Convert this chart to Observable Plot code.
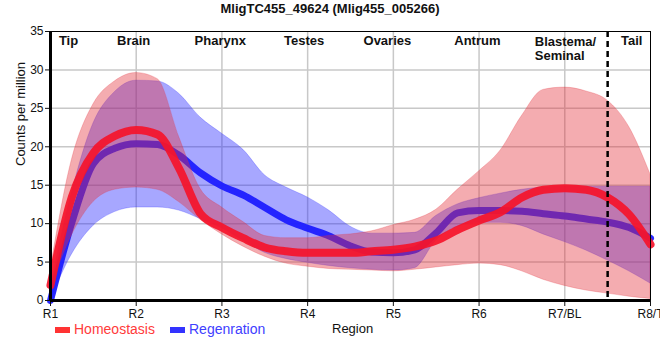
<!DOCTYPE html>
<html><head><meta charset="utf-8">
<script src="https://cdn.jsdelivr.net/npm/d3@7"></script>
<script src="https://cdn.jsdelivr.net/npm/@observablehq/plot@0.6"></script>
<style>
body{margin:0;background:#fff;font-family:"Liberation Sans",Arial,sans-serif;}
#wrap{position:relative;width:660px;height:360px;overflow:hidden}
#title{position:absolute;left:0;width:660px;top:1px;text-align:center;font-weight:bold;font-size:13px;line-height:15px;color:#111}
.leg{position:absolute;top:321px;font-size:14px;line-height:16px;white-space:nowrap}
.sw{position:absolute;top:327px;width:15px;height:6px}
</style></head><body>
<div id="wrap">
<div id="chart"></div>
<div id="title">MligTC455_49624 (Mlig455_005266)</div>
<div class="sw" style="left:55px;background:#ff3333"></div>
<div class="leg" style="left:74px;color:#ff3b3b">Homeostasis</div>
<div class="sw" style="left:170px;background:#3333ff"></div>
<div class="leg" style="left:189px;color:#4040ff">Regenration</div>
<div class="leg" style="left:332px;color:#111;font-size:13px">Region</div>
</div>
<script>
// x positions (region index, R1 = 0)
const positions = [0,0.25,0.5,0.75,1,1.25,1.5,1.75,2,2.25,2.5,2.75,3,3.25,3.5,3.75,4,4.25,4.5,4.75,5,5.25,5.5,5.75,6,6.25,6.5,6.75,7];
const homeoMean = [2.0,13.5,19.2,21.4,22.2,21.6,17.2,11.3,9.5,8.1,6.9,6.4,6.2,6.2,6.2,6.4,6.6,7.0,7.8,9.2,10.4,11.5,13.4,14.4,14.6,14.4,13.4,11.2,7.3];
const homeoLow  = [1.6,8.5,12.8,14.4,14.7,14.4,12.8,10.5,8.6,7.0,5.7,4.8,4.4,4.1,4.0,3.9,3.8,4.0,4.3,4.6,4.8,4.6,3.8,2.7,1.9,1.3,0.9,0.5,0.2];
const homeoHigh = [4,18.3,25.5,28.5,29.6,28.8,21.3,14.5,12.1,10.2,8.4,8.1,8.1,8.4,8.6,9.0,9.8,10.5,11.8,14.4,16.8,19.5,24.0,27.4,27.7,27.2,26.0,22.6,16.4];
const regenMean = [0,10.2,17.8,19.8,20.4,20.3,18.9,16.6,14.9,13.7,12.1,10.5,9.4,8.4,7.1,6.3,6.2,6.6,8.8,11.4,11.7,11.7,11.6,11.3,11.0,10.6,10.2,9.5,8.1];
const regenLow  = [0,6.0,9.7,11.5,12.1,12.1,11.7,10.6,9.4,7.8,6.2,5.4,4.9,4.5,4.2,4.0,3.9,4.2,7.8,9.6,10.1,10.1,9.7,8.6,7.6,6.5,5.2,3.8,2.2];
const regenHigh = [1.5,14,23.0,27.1,28.6,28.5,26.9,23.8,21.7,19.6,16.3,14.7,13.4,11.7,9.6,8.7,8.7,8.8,11.0,12.5,13.3,13.9,14.4,14.7,14.8,14.8,14.8,14.8,14.8];

const tickPos = [0,1,2,3,4,5,6,7];
const tickLabels = ["R1","R2","R3","R4","R5","R6","R7/BL","R8/T"];
const yTicks = [0,5,10,15,20,25,30,35];
const yGrid = [5,10,15,20,25,30];
const regionNames = ["Tip","Brain","Pharynx","Testes","Ovaries","Antrum","Tail"];
const regionX = [0.21,0.97,1.98,2.96,3.93,4.98,6.78];
const blastemaLabel = ["Blastema/\nSeminal"];
const blastemaX = [5.65];
const dividerPos = [6.5];

const data = positions.map((p,i)=>({pos:p, hm:homeoMean[i], hl:homeoLow[i], hh:homeoHigh[i], rm:regenMean[i], rl:regenLow[i], rh:regenHigh[i]}));
const curve = "monotone-x";

const chart = Plot.plot({
  width:660, height:360,
  marginTop:31, marginBottom:60, marginLeft:50, marginRight:10,
  style:{fontFamily:'"Liberation Sans",Arial,sans-serif', fontSize:"12px", color:"#111", background:"transparent"},
  x:{domain:[0,7]},
  y:{domain:[0,35]},
  marks:[
    Plot.gridX(tickPos.slice(1,7), {stroke:"#c8c8c8", strokeOpacity:1, strokeWidth:1.5}),
    Plot.gridY(yGrid, {stroke:"#c8c8c8", strokeOpacity:1, strokeWidth:1.5}),
    Plot.areaY(data, {x:"pos", y1:"rl", y2:"rh", fill:"#2424ff", fillOpacity:0.4, stroke:"#2424ff", strokeOpacity:0.25, strokeWidth:1, curve}),
    Plot.line(data, {x:"pos", y:"rm", stroke:"#1c1cff", strokeWidth:7, strokeOpacity:0.95, curve}),
    Plot.areaY(data, {x:"pos", y1:"hl", y2:"hh", fill:"#e3303a", fillOpacity:0.4, stroke:"#e3303a", strokeOpacity:0.25, strokeWidth:1, curve}),
    Plot.line(data, {x:"pos", y:"hm", stroke:"#f5142a", strokeWidth:8, strokeOpacity:0.92, curve}),
    Plot.ruleX(dividerPos, {stroke:"black", strokeWidth:2.5, strokeDasharray:"6,4"}),
    Plot.frame({stroke:"black", strokeWidth:1}),
    Plot.axisX(tickPos, {tickFormat:d=>tickLabels[d], tickSize:6, tickPadding:3, label:null, fontSize:12}),
    Plot.axisY(yTicks, {tickSize:5, tickPadding:2, label:null, fontSize:12}),
    Plot.ruleX([0], {stroke:"black", strokeWidth:3}),
    Plot.ruleY([0], {stroke:"black", strokeWidth:3}),
    Plot.text(regionNames, {x:regionX, text:d=>d, frameAnchor:"top", lineAnchor:"top", dy:4, fontWeight:"bold", fontSize:13, fill:"#111"}),
    Plot.text(blastemaLabel, {x:blastemaX, text:d=>d, frameAnchor:"top", lineAnchor:"top", textAnchor:"start", dy:4, lineHeight:1.1, fontWeight:"bold", fontSize:13, fill:"#111"}),
    Plot.text(["Counts per million"], {frameAnchor:"left", dx:-30, rotate:-90, fontSize:13, fill:"#111"})
  ]
});
document.getElementById("chart").appendChild(chart);
</script>
</body></html>
